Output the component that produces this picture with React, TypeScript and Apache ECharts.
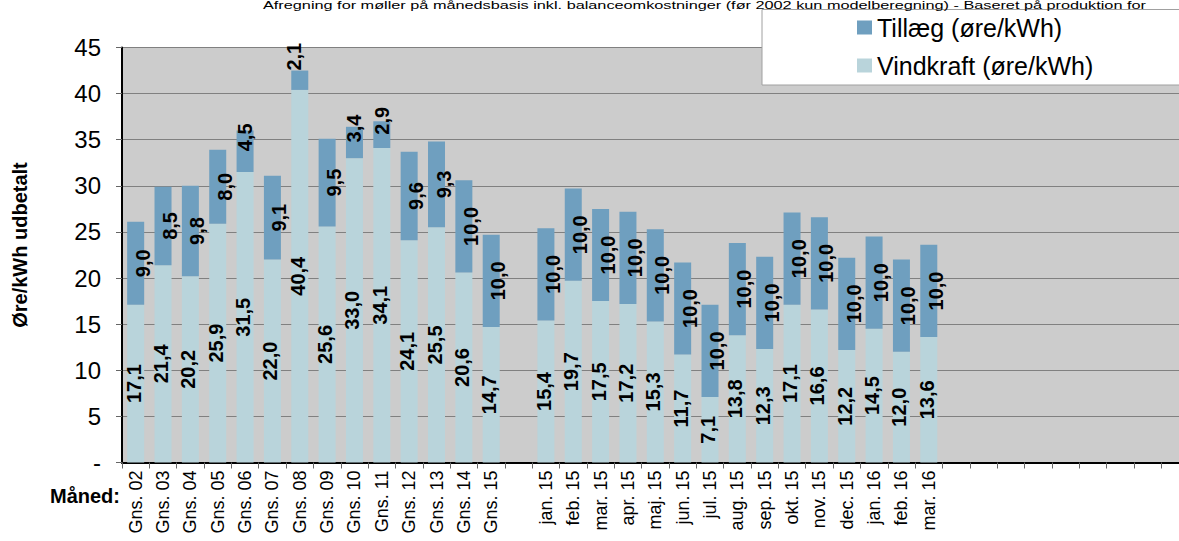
import React, { useEffect, useRef } from "react";
import * as echarts from "echarts";

const gnsLabels = ["Gns. 02", "Gns. 03", "Gns. 04", "Gns. 05", "Gns. 06", "Gns. 07", "Gns. 08", "Gns. 09", "Gns. 10", "Gns. 11", "Gns. 12", "Gns. 13", "Gns. 14", "Gns. 15"];
const monthLabels = ["jan. 15", "feb. 15", "mar. 15", "apr. 15", "maj. 15", "jun. 15", "jul. 15", "aug. 15", "sep. 15", "okt. 15", "nov. 15", "dec. 15", "jan. 16", "feb. 16", "mar. 16"];
const trailingEmpty = 9;

const gnsVind = [17.1, 21.4, 20.2, 25.9, 31.5, 22.0, 40.4, 25.6, 33.0, 34.1, 24.1, 25.5, 20.6, 14.7];
const gnsTillaeg = [9.0, 8.5, 9.8, 8.0, 4.5, 9.1, 2.1, 9.5, 3.4, 2.9, 9.6, 9.3, 10.0, 10.0];
const monthVind = [15.4, 19.7, 17.5, 17.2, 15.3, 11.7, 7.1, 13.8, 12.3, 17.1, 16.6, 12.2, 14.5, 12.0, 13.6];
const monthTillaeg = [10.0, 10.0, 10.0, 10.0, 10.0, 10.0, 10.0, 10.0, 10.0, 10.0, 10.0, 10.0, 10.0, 10.0, 10.0];

const yTicks = [0, 5, 10, 15, 20, 25, 30, 35, 40, 45];

const categories = [...gnsLabels, "", ...monthLabels, ...Array(trailingEmpty).fill("")];
const vindData = [...gnsVind, null, ...monthVind];
const tillaegData = [...gnsTillaeg, null, ...monthTillaeg];

const fmt = (v: number) => v.toFixed(1).replace(".", ",");

const labelBase = {
  show: true,
  rotate: 90,
  fontSize: 20,
  fontWeight: "bold" as const,
  color: "#000",
  fontFamily: "Liberation Sans, Arial, sans-serif",
  formatter: (p: any) => fmt(p.value),
};

export default function App() {
  const ref = useRef<HTMLDivElement>(null);
  useEffect(() => {
    if (!ref.current) return;
    const chart = echarts.init(ref.current, undefined, { renderer: "svg" });
    const font = "Liberation Sans, Arial, sans-serif";
    chart.setOption({
      animation: false,
      textStyle: { fontFamily: font },
      grid: {
        left: 122,
        top: 47.5,
        width: 1066.6,
        height: 415,
        show: true,
        backgroundColor: "#cccccc",
        borderWidth: 0,
      },
      legend: {
        z: 200,
        orient: "vertical",
        left: 852,
        top: 10,
        itemWidth: 15,
        itemHeight: 14,
        itemGap: 13,
        icon: "rect",
        textStyle: { fontSize: 25, color: "#000", fontFamily: font, padding: [0, 0, 0, 0], lineHeight: 24 },
        data: ["Tillæg (øre/kWh)", "Vindkraft (øre/kWh)"],
      },
      xAxis: {
        type: "category",
        data: categories,
        boundaryGap: true,
        axisLine: { lineStyle: { color: "#000", width: 2 } },
        axisTick: { show: true, length: 6, lineStyle: { color: "#666" }, interval: 0 },
        axisLabel: { rotate: 90, interval: 0, fontSize: 18, color: "#000", margin: 8, fontFamily: font },
      },
      yAxis: {
        type: "value",
        min: 0,
        max: 45,
        interval: 5,
        axisLine: { show: true, lineStyle: { color: "#000", width: 2 } },
        axisTick: { show: true, length: 6, lineStyle: { color: "#666" } },
        splitLine: { show: true, lineStyle: { color: "#808080", width: 1 } },
        axisLabel: {
          fontSize: 24,
          color: "#000",
          margin: 21,
          fontFamily: font,
          formatter: (v: number) => (v === 0 ? "-" : yTicks.includes(v) ? String(v) : ""),
        },
      },
      graphic: [
        {
          type: "rect",
          z: 100,
          shape: { x: 762, y: 9.5, width: 500, height: 75.5 },
          style: { fill: "#ffffff", stroke: "#a0a0a0", lineWidth: 1 },
        },
        {
          type: "text",
          z: 100,
          x: 263,
          y: 0,
          scaleX: 1.48,
          style: {
            text: "Afregning for møller på månedsbasis inkl. balanceomkostninger (før 2002 kun modelberegning) - Baseret på produktion for",
            fontSize: 11,
            fontFamily: font,
            fill: "#000",
          },
        },
        {
          type: "text",
          z: 100,
          x: 20,
          y: 245,
          rotation: Math.PI / 2,
          style: {
            text: "Øre/kWh udbetalt",
            fontSize: 20,
            fontWeight: "bold",
            fontFamily: font,
            fill: "#000",
            align: "center",
            verticalAlign: "middle",
          },
        },
        {
          type: "text",
          z: 100,
          x: 50,
          y: 496,
          style: {
            text: "Måned:",
            fontSize: 20,
            fontWeight: "bold",
            fontFamily: font,
            fill: "#000",
            verticalAlign: "middle",
          },
        },
      ],
      series: [
        {
          name: "Vindkraft (øre/kWh)",
          type: "bar",
          stack: "total",
          barWidth: 17,
          itemStyle: { color: "#b9d4db" },
          label: { ...labelBase, position: "inside", offset: [0, -2] },
          data: vindData,
        },
        {
          name: "Tillæg (øre/kWh)",
          type: "bar",
          stack: "total",
          barWidth: 17,
          itemStyle: { color: "#6f9fbf" },
          label: { ...labelBase, position: "inside", offset: [0, 7] },
          data: tillaegData.map((v) => {
            if (v === null) return null;
            if (v < 2.5) {
              return { value: v, label: { position: ["50%", "0%"], align: "left", verticalAlign: "middle", offset: [0, -6] } };
            }
            if (v < 5) {
              return { value: v, label: { position: ["50%", "50%"], align: "left", verticalAlign: "middle", offset: [0, 0] } };
            }
            return v;
          }),
        },
      ],
    });
    return () => chart.dispose();
  }, []);
  return (
    <div style={{ position: "absolute", left: 0, top: 0, width: 1179, height: 541, overflow: "hidden", background: "#fff" }}>
      <div ref={ref} style={{ width: 1200, height: 541 }} />
    </div>
  );
}
